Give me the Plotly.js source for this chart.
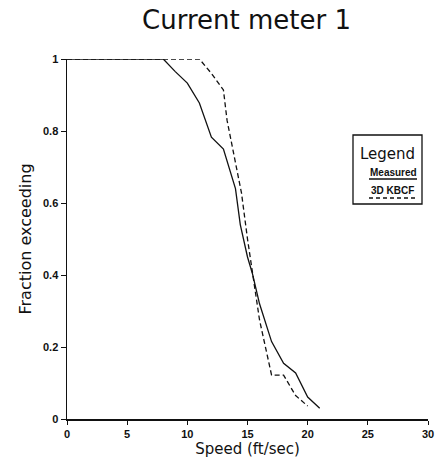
<!DOCTYPE html>
<html>
<head>
<meta charset="utf-8">
<script src="https://cdn.plot.ly/plotly-3.0.1.min.js"></script>
<style>html,body{margin:0;padding:0;background:#fff;}#chart{width:441px;height:464px;}</style>
</head>
<body>
<div id="chart"></div>
<script>
// Measured distribution (speed ft/sec vs fraction exceeding)
var measuredX = [0, 8, 9, 10, 11, 12, 13, 13.5, 14, 14.4, 15, 15.4, 16, 17, 18, 19, 20, 21];
var measuredY = [1, 1, 0.965, 0.933, 0.878, 0.783, 0.75, 0.695, 0.64, 0.54, 0.45, 0.405, 0.32, 0.215, 0.155, 0.128, 0.061, 0.03];
// 3D KBCF model
var modelX = [0, 11, 12, 13, 13.3, 14, 14.5, 15, 15.4, 16, 17, 18, 19, 20];
var modelY = [1, 1, 0.96, 0.914, 0.83, 0.71, 0.628, 0.50, 0.405, 0.275, 0.122, 0.122, 0.065, 0.036];
var seriesNames = ['Measured', '3D KBCF'];
var xTicks = [0, 5, 10, 15, 20, 25, 30];
var yTicks = [0, 0.2, 0.4, 0.6, 0.8, 1];
var yTickText = ['0', '0.2', '0.4', '0.6', '0.8', '1'];

var traces = [
  {x: modelX, y: modelY, name: seriesNames[1], mode: 'lines',
   line: {color: '#111', width: 1.3, dash: '5px,3px'}},
  {x: measuredX, y: measuredY, name: seriesNames[0], mode: 'lines',
   line: {color: '#111', width: 1.3}}
];

// plot area in pixels: x 67..428, y 59..419
function px(p){ return (p - 67) / 361; }
function py(p){ return (419 - p) / 360; }

var layout = {
  width: 441, height: 464,
  margin: {l: 67, r: 13, t: 59, b: 45},
  paper_bgcolor: '#fff', plot_bgcolor: '#fff',
  showlegend: false,
  font: {family: 'Liberation Sans, Arial, sans-serif', color: '#111'},
  title: {text: 'Current meter 1', x: 0.559, xanchor: 'center', y: 0.958, yanchor: 'middle',
          font: {family: 'DejaVu Sans, sans-serif', size: 26, color: '#111'}},
  xaxis: {
    range: [0, 30], tickvals: xTicks, ticktext: xTicks.map(String),
    showgrid: false, zeroline: false, showline: true, linecolor: '#111', linewidth: 1.5,
    ticks: 'outside', ticklen: 4, tickwidth: 1, tickcolor: '#111',
    tickfont: {size: 11, weight: 'bold', color: '#111'},
    title: {text: 'Speed (ft/sec)', standoff: 2, font: {family: 'DejaVu Sans, sans-serif', size: 15, color: '#111'}}
  },
  yaxis: {
    range: [0, 1], tickvals: yTicks, ticktext: yTickText,
    showgrid: false, zeroline: false, showline: true, linecolor: '#111', linewidth: 1.5,
    ticks: 'outside', ticklen: 5, tickwidth: 1, tickcolor: '#111',
    tickfont: {size: 11, weight: 'bold', color: '#111'},
    title: {text: 'Fraction exceeding', standoff: 7, font: {family: 'DejaVu Sans, sans-serif', size: 16, color: '#111'}}
  },
  shapes: [
    {type: 'rect', xref: 'paper', yref: 'paper', x0: px(353), x1: px(422), y0: py(204), y1: py(135),
     line: {color: '#111', width: 1.3}, fillcolor: 'rgba(0,0,0,0)'},
    {type: 'line', xref: 'paper', yref: 'paper', x0: px(369), x1: px(417), y0: py(179), y1: py(179),
     line: {color: '#111', width: 1.3}},
    {type: 'line', xref: 'paper', yref: 'paper', x0: px(369), x1: px(418), y0: py(198), y1: py(198),
     line: {color: '#111', width: 1.3, dash: '4px,3px'}}
  ],
  annotations: [
    {xref: 'paper', yref: 'paper', x: px(387), y: py(154), text: 'Legend', showarrow: false,
     xanchor: 'center', yanchor: 'middle', font: {family: 'DejaVu Sans, sans-serif', size: 15, color: '#111'}},
    {xref: 'paper', yref: 'paper', x: px(393), y: py(172), text: seriesNames[0], showarrow: false,
     xanchor: 'center', yanchor: 'middle', font: {size: 10, weight: 'bold', color: '#111'}},
    {xref: 'paper', yref: 'paper', x: px(392), y: py(190), text: seriesNames[1], showarrow: false,
     xanchor: 'center', yanchor: 'middle', font: {size: 10, weight: 'bold', color: '#111'}}
  ]
};

Plotly.newPlot('chart', traces, layout, {displayModeBar: false, staticPlot: true});
</script>
</body>
</html>
